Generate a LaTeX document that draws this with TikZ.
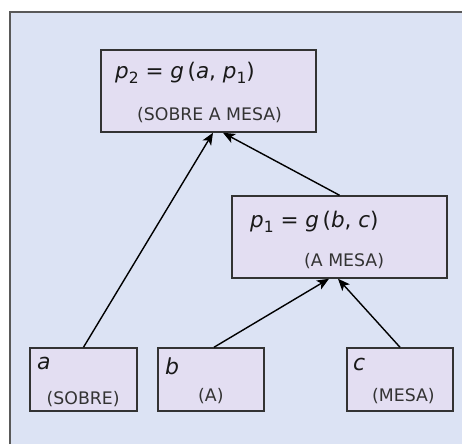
\documentclass[tikz,border=0pt]{standalone}
\usepackage{fontspec}
\setmainfont{DejaVu Sans}
\usetikzlibrary{arrows.meta,calc}
\definecolor{bgblue}{HTML}{DCE3F4}
\definecolor{boxfill}{HTML}{E3DEF2}
\definecolor{boxline}{HTML}{333333}
\newcommand{\fsz}{\fontsize{21.5}{25}\selectfont}
\newcommand{\lsz}{\fontsize{17.3}{20}\selectfont}
\newcommand{\vsz}{\fontsize{22}{26}\selectfont}
\newcommand{\subx}[1]{\raisebox{-0.25em}{\fontsize{15.5}{18}\selectfont #1}}
\begin{document}
\begin{tikzpicture}[x=1pt,y=-1pt,
  box/.style={draw=boxline,fill=boxfill,line width=1.5pt,inner sep=0pt},
  txt/.style={anchor=base west,inner sep=0pt,text=black!90},
  lbl/.style={anchor=base west,inner sep=0pt,text=black!80},
  conn/.style={line width=1.4pt,-{Stealth[length=12pt,width=10pt,inset=3pt]}}]
\useasboundingbox (0,0) rectangle (462,444);
\fill[white] (0,0) rectangle (462,444);
\fill[bgblue] (10,12) rectangle (462,444);
\draw[draw=black!65,line width=1.5pt] (10,444) -- (10,12) -- (462,12);
% boxes
\node[box,minimum width=215pt,minimum height=82pt] (p2box) at (208.5,91) {};
\node[box,minimum width=215pt,minimum height=82pt] (p1box) at (339.5,237) {};
\node[box,minimum width=107pt,minimum height=63pt] (abox) at (83.5,379.5) {};
\node[box,minimum width=106pt,minimum height=63pt] (bbox) at (211,379.5) {};
\node[box,minimum width=106pt,minimum height=63pt] (cbox) at (400,379.5) {};
% texts
\node[txt] (p2f) at (115,78) {\fsz\textit{p}\subx{2} = \textit{g}\,(\textit{a}, \textit{p}\subx{1})};
\node[lbl] (p2l) at (137,120) {\lsz(SOBRE A MESA)};
\node[txt] (p1f) at (250,227) {\fsz\textit{p}\subx{1} = \textit{g}\,(\textit{b}, \textit{c})};
\node[lbl] (p1l) at (304,266) {\lsz(A MESA)};
\node[txt] (av) at (37,369) {\vsz\textit{a}};
\node[lbl] (al) at (46.5,404) {\lsz(SOBRE)};
\node[txt] (bv) at (165,374) {\vsz\textit{b}};
\node[lbl] (bl) at (198,401.5) {\lsz(A)};
\node[txt] (cv) at (353,370.5) {\vsz\textit{c}};
\node[lbl] (cl) at (372,401.5) {\lsz(MESA)};
% connectors
\draw[conn] (abox.north) -- ($(p2box.south)+(4.5,0)$);
\draw[conn] (p1box.north) -- ($(p2box.south)+(14.5,0)$);
\draw[conn] ($(bbox.north)+(3,0)$) -- ($(p1box.south)+(-10.5,0)$);
\draw[conn] (cbox.north) -- ($(p1box.south)+(-1.5,0)$);
\end{tikzpicture}
\end{document}
